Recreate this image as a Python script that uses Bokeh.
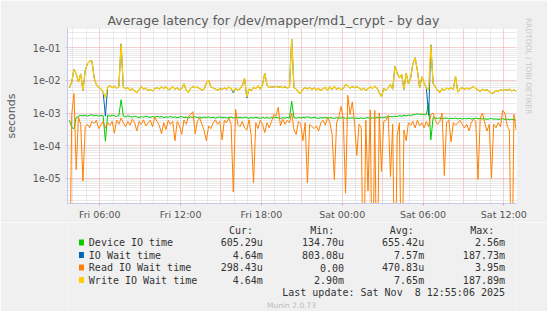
import numpy as np
from bokeh.plotting import figure
from bokeh.layouts import column
from bokeh.models import Range1d, FixedTicker, CustomJSTickFormatter, Title
from bokeh.core.properties import value
from bokeh.embed import file_html
from bokeh.resources import INLINE

# ---------------- data (milliseconds, one sample every 10 minutes) ----------------
START_HOUR = 3.75          # Fri 03:45
STEP_HOURS = 10.0 / 60.0   # 10 minutes

device_io_ms = [
    0.6, 0.36, 0.33, 0.72, 0.8, 0.84, 0.82, 0.86, 0.8, 0.85,
    0.88, 0.83, 0.86, 0.8, 0.84, 0.82, 0.135, 0.85, 0.8, 0.86,
    0.82, 0.78, 0.84, 2.56, 0.8, 0.76, 0.82, 0.78, 0.74, 0.8,
    0.76, 0.72, 0.78, 0.74, 0.8, 0.76, 0.73, 0.78, 0.74, 0.8,
    0.75, 0.78, 0.72, 0.76, 0.74, 0.79, 0.73, 0.76, 0.71, 0.75,
    0.78, 0.72, 0.75, 0.7, 0.76, 0.73, 0.77, 0.72, 0.74, 0.7,
    0.75, 0.72, 0.76, 0.71, 0.74, 0.7, 0.73, 0.76, 0.71, 0.74,
    0.7, 0.73, 0.75, 0.7, 0.74, 0.71, 0.73, 0.7, 0.75, 0.72,
    0.69, 0.73, 0.7, 0.74, 0.71, 0.68, 0.73, 0.7, 0.72, 0.69,
    0.73, 0.7, 0.74, 0.71, 0.68, 0.72, 0.7, 0.73, 0.7, 2.3,
    0.72, 0.69, 0.73, 0.7, 0.74, 0.71, 0.77, 0.72, 0.7, 0.74,
    0.71, 0.68, 0.72, 0.7, 0.73, 0.69, 0.72, 0.7, 0.68, 0.72,
    0.69, 0.71, 0.73, 0.68, 0.71, 0.69, 0.72, 0.68, 0.7, 0.67,
    0.71, 0.68, 0.7, 0.72, 0.68, 0.71, 0.69, 0.73, 0.7, 0.74,
    0.72, 0.76, 0.74, 0.78, 0.76, 0.8, 0.78, 0.83, 0.8, 0.85,
    0.82, 0.86, 0.84, 0.88, 0.9, 0.95, 0.9, 0.92, 0.88, 0.9,
    2.0, 0.15, 0.72, 0.7, 0.68, 0.7, 0.67, 0.69, 0.7, 0.66,
    0.69, 0.67, 0.7, 0.66, 0.68, 0.65, 0.68, 0.66, 0.69, 0.65,
    0.67, 0.7, 0.66, 0.68, 0.65, 0.67, 0.64, 0.66, 0.68, 0.64,
    0.66, 0.63, 0.65, 0.67, 0.63, 0.65, 0.62, 0.64, 0.62, 0.605,
]

io_wait_ms = [
    6.0, 9.0, 22, 16, 9.0, 16, 4.9, 20, 33, 39,
    40, 12, 7.5, 6.2, 5.5, 4.4, 0.8, 6.3, 6.8, 6.0,
    6.6, 5.8, 6.5, 134, 6.2, 5.6, 6.0, 5.0, 5.6, 4.8,
    4.2, 5.2, 6.5, 5.4, 5.9, 4.9, 5.3, 4.8, 5.7, 6.0,
    5.5, 6.3, 5.7, 6.4, 5.2, 5.6, 6.5, 5.4, 5.9, 5.2,
    5.6, 7.9, 5.0, 4.3, 5.8, 6.5, 6.0, 6.2, 5.6, 5.1,
    5.4, 8.5, 10.0, 6.4, 5.8, 5.5, 5.0, 5.6, 5.3, 5.9,
    5.4, 6.3, 5.6, 4.2, 5.8, 5.1, 5.5, 7.0, 11.8, 2.9,
    5.5, 4.8, 6.2, 5.6, 6.8, 5.4, 7.5, 16.8, 7.2, 6.0,
    6.4, 6.2, 6.6, 6.3, 6.5, 6.0, 6.4, 5.9, 6.2, 187.73,
    6.0, 5.5, 4.3, 4.1, 5.4, 6.0, 5.5, 6.1, 5.3, 5.9,
    5.2, 5.7, 4.9, 5.6, 6.2, 5.0, 6.4, 5.3, 6.6, 5.4,
    5.9, 5.2, 5.7, 7.5, 6.9, 5.8, 6.4, 6.0, 6.5, 5.9,
    5.2, 5.8, 4.9, 5.6, 6.3, 5.7, 6.6, 5.9, 4.2, 3.2,
    5.6, 5.0, 6.0, 7.5, 5.4, 27, 17, 12, 15.5, 5.3,
    17, 8.0, 12, 33, 50, 20, 6.0, 13, 8.3, 5.8,
    0.85, 125, 8.0, 6.3, 5.0, 4.3, 5.6, 4.9, 5.8, 5.5,
    5.9, 5.4, 13.3, 4.4, 5.6, 5.9, 5.4, 5.8, 5.5, 5.9,
    6.5, 5.6, 5.2, 4.6, 5.4, 4.9, 5.3, 4.6, 4.0, 4.2,
    4.9, 4.6, 5.2, 4.9, 5.3, 5.0, 5.4, 4.8, 5.1, 4.64,
]

read_wait_ms = [
    0.0, 0.9, 3.95, 0.018, 0.75, 0.45, 0.008, 0.38, 0.45, 0.35,
    0.55, 0.48, 0.6, 0.33, 0.42, 0.55, 0.35, 0.5, 0.42, 0.55,
    0.24, 0.6, 0.45, 0.7, 0.5, 0.38, 0.55, 0.42, 0.65, 0.5,
    0.28, 0.55, 0.45, 0.62, 0.4, 0.5, 0.6, 0.38, 0.75, 0.55,
    0.42, 0.23, 0.5, 0.31, 0.6, 0.45, 0.55, 0.14, 0.55, 0.4,
    0.22, 0.6, 0.45, 0.8, 0.9, 1.1, 0.23, 0.55, 0.7, 0.45,
    0.28, 0.14, 0.4, 0.33, 0.5, 0.62, 0.45, 0.55, 0.15, 0.6,
    0.5, 0.7, 0.45, 0.0037, 1.3, 0.45, 0.38, 0.55, 0.35, 0.3,
    0.62, 0.19, 0.007, 0.5, 0.33, 0.6, 0.45, 0.25, 0.5, 0.35,
    0.55, 0.9, 0.8, 1.5, 0.4, 0.65, 0.45, 0.6, 0.5, 1.0,
    0.3, 0.22, 0.55, 0.45, 0.14, 0.5, 0.007, 0.45, 0.38, 0.33,
    0.4, 0.28, 0.5, 0.6, 0.42, 0.75, 0.5, 0.22, 0.009, 0.5,
    0.75, 1.6, 0.6, 0.0034, 3.5, 0.9, 2.2, 0.5, 0.05, 0.45,
    0.35, 0.0, 0.6, 0.004, 1.25, 0.0, 1.2, 0.0, 1.0, 0.016,
    0.55, 0.6, 0.85, 0.011, 0.45, 0.0, 0.2, 0.5, 0.0, 0.3,
    0.14, 0.5, 0.42, 0.55, 0.35, 0.6, 0.4, 0.5, 0.35, 0.55,
    0.38, 0.9, 1.0, 0.6, 0.45, 0.55, 1.0, 0.012, 0.5, 0.6,
    0.13, 0.5, 0.42, 0.5, 0.6, 0.45, 0.35, 0.45, 0.28, 0.5,
    0.65, 0.55, 0.009, 0.7, 1.0, 0.5, 0.28, 0.45, 0.0098, 0.45,
    0.35, 0.5, 0.38, 1.2, 1.0, 0.4, 0.3, 0.0, 0.9, 0.298,
]

write_wait_ms = [
    6.0, 9.0, 22, 16, 9.0, 16, 4.9, 20, 33, 39,
    40, 12, 7.5, 6.2, 5.5, 4.4, 3.0, 6.3, 6.8, 6.0,
    6.6, 5.8, 6.5, 134, 6.2, 5.6, 6.0, 5.0, 5.6, 4.8,
    4.2, 5.2, 6.5, 5.4, 5.9, 4.9, 5.3, 4.8, 5.7, 6.0,
    5.5, 6.3, 5.7, 6.4, 5.2, 5.6, 6.5, 5.4, 5.9, 5.2,
    5.6, 7.9, 5.0, 4.3, 5.8, 6.5, 6.0, 6.2, 5.6, 5.1,
    5.4, 8.5, 10.0, 6.4, 5.8, 5.5, 5.0, 5.6, 5.3, 5.9,
    5.4, 6.3, 5.6, 4.7, 5.8, 5.1, 5.5, 7.0, 11.8, 3.1,
    5.5, 4.8, 6.2, 5.6, 6.8, 5.4, 7.5, 16.8, 7.2, 6.0,
    6.4, 6.2, 6.6, 6.3, 6.5, 6.0, 6.4, 5.9, 6.2, 187.89,
    6.0, 5.5, 4.3, 4.1, 5.4, 6.0, 5.5, 6.1, 5.3, 5.9,
    5.2, 5.7, 4.9, 5.6, 6.2, 5.0, 6.4, 5.3, 6.6, 5.4,
    5.9, 5.2, 5.7, 7.5, 6.9, 5.8, 6.4, 6.0, 6.5, 5.9,
    5.2, 5.8, 4.9, 5.6, 6.3, 5.7, 6.6, 5.9, 4.2, 3.2,
    5.6, 5.0, 6.0, 7.5, 5.4, 27, 17, 12, 15.5, 5.3,
    17, 8.0, 12, 33, 50, 20, 6.0, 13, 8.3, 5.8,
    5.3, 125, 8.0, 6.3, 5.0, 4.3, 5.6, 4.9, 5.8, 5.5,
    5.9, 5.4, 13.3, 4.4, 5.6, 5.9, 5.4, 5.8, 5.5, 5.9,
    6.5, 5.6, 5.2, 4.6, 5.4, 4.9, 5.3, 4.6, 4.0, 4.2,
    4.9, 4.6, 5.2, 4.9, 5.3, 5.0, 5.4, 4.8, 5.1, 4.64,
]

tick_hours = [6, 12, 18, 24, 30, 36]
tick_labels = ["Fri 06:00", "Fri 12:00", "Fri 18:00", "Sat 00:00", "Sat 06:00", "Sat 12:00"]

series_names = ["Device IO time", "IO Wait time", "Read IO Wait time", "Write IO Wait time"]
series_colors = ["#00CC00", "#0066B3", "#FF8000", "#FFCC00"]
col_headers = ["Cur:", "Min:", "Avg:", "Max:"]
cur_vals = ["605.29u", "4.64m", "298.43u", "4.64m"]
min_vals = ["134.70u", "803.08u", "0.00", "2.90m"]
avg_vals = ["655.42u", "7.57m", "470.83u", "7.65m"]
max_vals = ["2.56m", "187.73m", "3.95m", "187.89m"]

TITLE = "Average latency for /dev/mapper/md1_crypt - by day"
LAST_UPDATE = "Last update: Sat Nov  8 12:55:06 2025"
VERSION = "Munin 2.0.73"
SIDE_TEXT = "RRDTOOL / TOBI OETIKER"

# ---------------- main chart ----------------
W, H = 547, 311
FL, FR, FT, FB = 67, 516, 28, 203   # frame edges in canvas pixels
HA = 222                            # height of the chart part
BG = "#F0F0F0"

p = figure(width=W, height=HA, output_backend="svg", toolbar_location=None,
           y_axis_type="log",
           x_range=Range1d(3.603, 36.942), y_range=Range1d(1.648e-6, 0.397),
           min_border_left=FL, min_border_right=W - FR,
           min_border_top=FT, min_border_bottom=HA - FB)
p.background_fill_color = "white"
p.border_fill_color = BG
p.outline_line_color = None

p.title.text = TITLE
p.title.align = "left"
p.title.offset = 40
p.title.standoff = 2
p.title.text_font = "DejaVu Sans"
p.title.text_font_size = "12.5px"
p.title.text_font_style = "normal"
p.title.text_color = "#5A5A5A"

p.add_layout(Title(text=SIDE_TEXT, align="right", offset=89, standoff=15,
                   text_font="DejaVu Sans", text_font_size="7.5px",
                   text_font_style="normal", text_color="#C8C8C8"), "right")

# grids
x_major = [h for h in range(3, 40, 3)]
x_minor = [h for h in range(3, 40) if h % 3 != 0]
p.xgrid.ticker = FixedTicker(ticks=x_major, minor_ticks=x_minor)
p.xgrid.grid_line_color = "#E8A0A0"
p.xgrid.grid_line_dash = "1 1"
p.xgrid.minor_grid_line_color = "#D4D4D4"
p.xgrid.minor_grid_line_dash = "1 1"

y_major = [10.0 ** e for e in range(-6, 0)]
y_minor = [k * 10.0 ** e for e in range(-7, 0) for k in range(2, 10)]
p.ygrid.ticker = FixedTicker(ticks=y_major, minor_ticks=y_minor)
p.ygrid.grid_line_color = "#E8A0A0"
p.ygrid.grid_line_dash = "1 1"
p.ygrid.minor_grid_line_color = "#D4D4D4"
p.ygrid.minor_grid_line_dash = "1 1"

# axes
AX_COL = "#C4C8EC"
p.xaxis.ticker = FixedTicker(ticks=tick_hours)
p.xaxis.major_label_overrides = {h: lab for h, lab in zip(tick_hours, tick_labels)}
p.xaxis.axis_line_color = AX_COL
p.xaxis.major_tick_line_color = "#E0A0A0"
p.xaxis.major_tick_out = 2
p.xaxis.major_tick_in = 0
p.xaxis.minor_tick_line_color = None
p.xaxis.major_label_standoff = 3
p.xaxis.major_label_text_font = "DejaVu Sans"
p.xaxis.major_label_text_font_size = "9.5px"
p.xaxis.major_label_text_color = "#555555"

p.yaxis.ticker = FixedTicker(ticks=y_major)
p.yaxis.formatter = CustomJSTickFormatter(code="""
const s = tick.toExponential(0).split('e');
let e = parseInt(s[1]);
const sign = e < 0 ? '-' : '+';
e = Math.abs(e);
return s[0] + 'e' + sign + (e < 10 ? '0' : '') + e;
""")
p.yaxis.axis_line_color = AX_COL
p.yaxis.major_tick_line_color = AX_COL
p.yaxis.major_tick_out = 2
p.yaxis.major_tick_in = 0
p.yaxis.minor_tick_line_color = None
p.yaxis.major_label_standoff = 5
p.yaxis.major_label_text_font = "DejaVu Sans"
p.yaxis.major_label_text_font_size = "9.6px"
p.yaxis.major_label_text_color = "#555555"
p.yaxis.axis_label = "seconds"
p.yaxis.axis_label_text_font = "DejaVu Sans"
p.yaxis.axis_label_text_font_size = "11px"
p.yaxis.axis_label_text_font_style = "normal"
p.yaxis.axis_label_text_color = "#555555"
p.yaxis.axis_label_standoff = 12

n = len(write_wait_ms)
hours = START_HOUR + STEP_HOURS * np.arange(n)
FLOOR = 1e-9  # zero values are drawn below the visible range
line_widths = [1.0, 1.0, 1.0, 1.25]
for vals, col, lw in zip([device_io_ms, io_wait_ms, read_wait_ms, write_wait_ms], series_colors, line_widths):
    y = np.maximum(np.asarray(vals, dtype=float) * 1e-3, FLOOR)
    p.line(hours[:len(y)], y, line_color=col, line_width=lw)

# ---------------- legend / footer strip (data units = canvas pixels) ----------------
q = figure(width=W, height=H - HA, output_backend="svg", toolbar_location=None,
           x_range=Range1d(0, W), y_range=Range1d(H, HA),
           x_axis_location=None, y_axis_location=None,
           min_border_left=0, min_border_right=0, min_border_top=0, min_border_bottom=0)
q.background_fill_color = BG
q.border_fill_color = BG
q.outline_line_color = None
q.xgrid.visible = False
q.ygrid.visible = False

MONO = value("DejaVu Sans Mono")
TXT = "#333333"
hdr_right = [226, 325, 422, 520]
q.text(x=hdr_right, y=[229.5] * 4, text=col_headers, text_align="right", text_baseline="middle",
       text_font=MONO, text_font_size="10px", text_color=TXT)

row_y = [242, 254.5, 267, 279.5]
val_right = [238, 337, 434.5, 533]
q.quad(left=[14] * 4, right=[20] * 4, top=[yy - 3 for yy in row_y], bottom=[yy + 3 for yy in row_y],
       fill_color=series_colors, line_color=None)
q.text(x=[26] * 4, y=row_y, text=series_names, text_align="left", text_baseline="middle",
       text_font=MONO, text_font_size="10px", text_color=TXT)
for vals, xr in zip([cur_vals, min_vals, avg_vals, max_vals], val_right):
    q.text(x=[xr] * 4, y=row_y, text=vals, text_align="right", text_baseline="middle",
           text_font=MONO, text_font_size="10px", text_color=TXT)
# keep the double space visible (SVG collapses runs of plain spaces)
q.text(x=[533], y=[292], text=[LAST_UPDATE.replace("  ", " \u00a0")], text_align="right",
       text_baseline="middle", text_font=MONO, text_font_size="10px", text_color=TXT)
q.text(x=[273], y=[305], text=[VERSION], text_align="center", text_baseline="middle",
       text_font=value("DejaVu Sans"), text_font_size="7.5px", text_color="#BBBBBB")

layout = column(p, q, spacing=0)
open("out.html", "w").write(file_html(layout, INLINE))
